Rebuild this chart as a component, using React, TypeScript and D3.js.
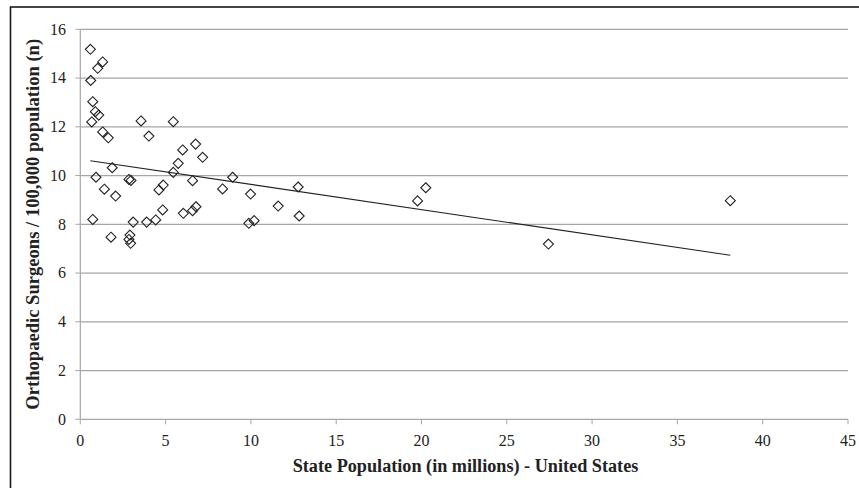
import React from "react";
import * as d3 from "d3";

const popMillions: number[] = [
  0.59, 1.31, 1.02, 0.61, 0.73, 0.88, 1.08, 0.67, 1.31, 1.64,
  3.56, 4.02, 5.45, 6.0, 6.76, 7.17, 5.74, 1.87, 5.45, 0.92,
  2.85, 2.97, 6.58, 8.93, 1.41, 2.07, 4.86, 4.61, 8.34, 9.98,
  0.73, 4.83, 6.04, 6.58, 6.78, 3.1, 3.89, 4.42, 9.88, 10.19,
  1.8, 2.91, 2.85, 2.95, 12.77, 11.6, 12.83, 20.25, 19.77, 38.1,
  27.44,
];
const surgeonsPer100k: number[] = [
  15.18, 14.66, 14.4, 13.9, 13.03, 12.62, 12.48, 12.2, 11.79, 11.55,
  12.24, 11.62, 12.21, 11.05, 11.29, 10.75, 10.5, 10.32, 10.13, 9.93,
  9.84, 9.8, 9.79, 9.93, 9.44, 9.16, 9.61, 9.41, 9.45, 9.24,
  8.2, 8.59, 8.45, 8.56, 8.72, 8.09, 8.09, 8.18, 8.04, 8.15,
  7.47, 7.56, 7.38, 7.22, 9.53, 8.75, 8.34, 9.5, 8.96, 8.97,
  7.19,
];
const xTicks: number[] = [0, 5, 10, 15, 20, 25, 30, 35, 40, 45];
const yTicks: number[] = [0, 2, 4, 6, 8, 10, 12, 14, 16];
const trendIntercept = 10.67;
const trendSlope = -0.1034;
const xTitle = "State Population (in millions) - United States";
const yTitle = "Orthopaedic Surgeons / 100,000 population (n)";

export default function App() {
  const W = 859;
  const H = 488;
  const x = d3.scaleLinear().domain([0, 45]).range([80.3, 848]);
  const y = d3.scaleLinear().domain([0, 16]).range([419.3, 29.3]);
  const font = "'Liberation Serif', 'Times New Roman', serif";
  const pts = popMillions.map((p, i) => ({ p, s: surgeonsPer100k[i] }));
  const [xmin, xmax] = d3.extent(popMillions) as [number, number];
  const line = d3
    .line<number>()
    .x((d) => x(d))
    .y((d) => y(trendIntercept + trendSlope * d));
  const diamond = (cx: number, cy: number, r: number) =>
    `M${cx},${cy - r}L${cx + r},${cy}L${cx},${cy + r}L${cx - r},${cy}Z`;

  return (
    <svg
      width={W}
      height={H}
      fontFamily={font}
      style={{ position: "absolute", left: 0, top: 0, background: "#fff" }}
    >
      <rect x={10.5} y={7} width={900} height={600} fill="#fff" stroke="#1a1a1a" strokeWidth={1.6} />
      {yTicks.map((t) => (
        <g key={"y" + t}>
          {t > 0 && (
            <line x1={x(0)} x2={x(45)} y1={y(t)} y2={y(t)} stroke="#a6a6a6" strokeWidth={1.2} />
          )}
          <line x1={x(0) - 5} x2={x(0)} y1={y(t)} y2={y(t)} stroke="#a6a6a6" strokeWidth={1} />
          <text x={66} y={y(t)} dy="0.34em" textAnchor="end" fontSize={16} fill="#222">
            {t}
          </text>
        </g>
      ))}
      <line x1={x(0)} x2={x(0)} y1={y(16)} y2={y(0)} stroke="#a6a6a6" strokeWidth={1.2} />
      <line x1={x(0)} x2={x(45)} y1={y(0)} y2={y(0)} stroke="#a6a6a6" strokeWidth={1.2} />
      {xTicks.map((t) => (
        <g key={"x" + t}>
          <line x1={x(t)} x2={x(t)} y1={y(0)} y2={y(0) + 5} stroke="#a6a6a6" strokeWidth={1} />
          <text x={x(t)} y={446} textAnchor="middle" fontSize={16} fill="#222">
            {t}
          </text>
        </g>
      ))}
      <path d={line([xmin, xmax]) || ""} fill="none" stroke="#222" strokeWidth={1.1} />
      {pts.map((d, i) => (
        <path
          key={i}
          d={diamond(x(d.p), y(d.s), 5)}
          fill="none"
          stroke="#222"
          strokeWidth={1.1}
        />
      ))}
      <text
        x={465.5}
        y={472}
        textAnchor="middle"
        fontSize={18.2}
        fontWeight="bold"
        fill="#222"
      >
        {xTitle}
      </text>
      <text
        transform={`translate(39,${(y(0) + y(16)) / 2}) rotate(-90)`}
        textAnchor="middle"
        fontSize={18.6}
        fontWeight="bold"
        fill="#222"
      >
        {yTitle}
      </text>
    </svg>
  );
}
